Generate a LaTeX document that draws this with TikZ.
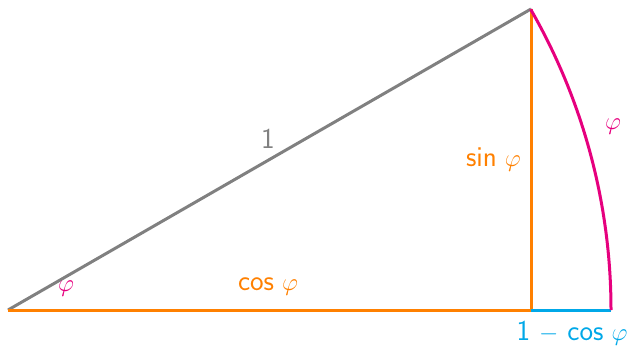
\documentclass[tikz,border=0pt]{standalone}
\usepackage{amsmath}
\usepackage{xcolor}
\usetikzlibrary{calc,positioning}
\definecolor{trigorange}{HTML}{FF8000}
\definecolor{triggray}{HTML}{808080}
\definecolor{trigpink}{HTML}{E6007E}
\definecolor{trigcyan}{HTML}{00A8E8}

\begin{document}
\begin{tikzpicture}[
  x=1bp, y=1bp,
  side/.style={line width=3bp},
  lbl/.style={font=\fontsize{29}{32}\selectfont\sffamily, inner sep=1pt},
]
\useasboundingbox (0,0) rectangle (630,347);

% --- corners of the triangle
\coordinate (O) at (8,37);
\coordinate (T) at (531,338);
\coordinate (F) at (531,37);
\coordinate (E) at (611,37);

% --- sides
\draw[side,triggray] (O) -- (T);
\draw[side,trigorange] (O) -- (F);
\draw[side,trigorange] (F) -- (T);
\draw[side,trigcyan] (F) -- (E);
\draw[side,trigpink] (E) arc[start angle=0, end angle=29.92, radius=603];

% --- labels
\node[lbl,triggray] (one) at (268,208) {1};
\node[lbl,trigorange,anchor=east] (sinp) at (522,187) {sin\;$\varphi$};
\node[lbl,trigorange] (cosp) at (268,60) {cos\;$\varphi$};
\node[lbl,trigpink] (angp) at (66,58) {$\varphi$};
\node[lbl,trigpink] (arcp) at (613,220) {$\varphi$};
\node[lbl,trigcyan] (rest) at (572,14) {1 $-$ cos\;$\varphi$};
\end{tikzpicture}
\end{document}
